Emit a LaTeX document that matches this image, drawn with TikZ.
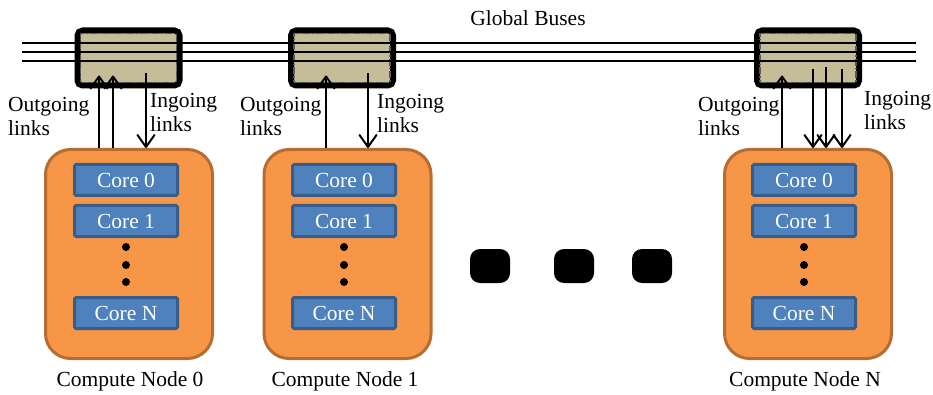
\documentclass[tikz,border=0pt]{standalone}
\usepackage{fontspec}
\setmainfont{Liberation Serif}
\usetikzlibrary{arrows.meta}
\definecolor{bustan}{HTML}{C4BD97}
\definecolor{nodeorange}{HTML}{F79646}
\definecolor{nodeborder}{HTML}{B66D31}
\definecolor{corefill}{HTML}{4F81BD}
\definecolor{coreborder}{HTML}{385D8A}
\tikzset{
  lbl/.style={font=\fontsize{21.5}{24}\selectfont, inner sep=0pt},
  twoline/.style={lbl, align=left, anchor=west},
  busbox/.style={draw=black, fill=bustan, line width=6pt, rounded corners=5pt,
    minimum width=102pt, minimum height=55pt, inner sep=0pt},
  businner/.style={draw=black!65, line width=1.2pt, dash pattern=on 7pt off 2pt on 1.5pt off 2pt,
    minimum width=96pt, minimum height=49pt, inner sep=0pt},
  cnode/.style={draw=nodeborder, fill=nodeorange, line width=3pt, rounded corners=25pt,
    minimum width=167pt, minimum height=209pt, inner sep=0pt},
  core/.style={draw=coreborder, fill=corefill, line width=3pt, rounded corners=1.5pt,
    minimum width=103pt, minimum height=31pt, inner sep=0pt, text=white,
    font=\fontsize{21.5}{24}\selectfont},
  sdot/.style={circle, fill=black, minimum size=8pt, inner sep=0pt},
  bdot/.style={fill=black, rounded corners=10pt, minimum width=40pt, minimum height=34pt, inner sep=0pt},
  arr/.style={line width=2pt, -{Straight Barb[length=12pt,width=17pt,round]}},
  bus/.style={line width=2pt}
}
\begin{document}
\begin{tikzpicture}[x=1pt,y=-1pt]
\useasboundingbox (0,0) rectangle (933,395);

% bus boxes
\foreach \nm/\cx in {b0/128.5, b1/342, bN/808} {
  \node[busbox] (\nm) at (\cx,58) {};
  \node[businner] (\nm i) at (\cx,58) {};
}
% global bus lines
\coordinate (busL1) at (22,43);
\coordinate (busR1) at (916,43);
\coordinate (busL2) at (22,52);
\coordinate (busR2) at (916,52);
\coordinate (busL3) at (22,61);
\coordinate (busR3) at (916,61);
\draw[bus] (busL1) -- (busR1);
\draw[bus] (busL2) -- (busR2);
\draw[bus] (busL3) -- (busR3);
\node[lbl] (gb) at (528,18) {Global Buses};

% compute nodes
\foreach \nm/\cx/\kx in {n0/129/126, n1/347.5/344, nN/808/804} {
  \node[cnode] (\nm) at (\cx,254) {};
  \node[core] (\nm c0) at (\kx,180) {Core 0};
  \node[core] (\nm c1) at (\kx,221) {Core 1};
  \node[core] (\nm cN) at (\kx,313) {Core N};
  \node[sdot] (\nm d1) at (\kx,247) {};
  \node[sdot] (\nm d2) at (\kx,265) {};
  \node[sdot] (\nm d3) at (\kx,282) {};
}
\node[lbl] (l0) at (130,381) {Compute Node 0};
\node[lbl] (l1) at (345,381) {Compute Node 1};
\node[lbl] (lN) at (805,381) {Compute Node N};

% big dots
\node[bdot] (e1) at (490,266) {};
\node[bdot] (e2) at (574,266) {};
\node[bdot] (e3) at (652,266) {};

% links node 0
\draw[arr] ([shift={(-30,0)}]n0.north) -- ([shift={(-29.5,-13)}]b0.south);
\draw[arr] ([shift={(-16,0)}]n0.north) -- ([shift={(-15.5,-13)}]b0.south);
\draw[arr] ([shift={(17.5,-15)}]b0.south) -- ([shift={(17,0)}]n0.north);
% links node 1
\draw[arr] ([shift={(-21.5,0)}]n1.north) -- ([shift={(-16,-13)}]b1.south);
\draw[arr] ([shift={(26,-15)}]b1.south) -- ([shift={(20.5,0)}]n1.north);
% links node N
\draw[arr] ([shift={(-26,0)}]nN.north) -- ([shift={(-26,-13)}]bN.south);
\draw[arr] ([shift={(5,-19)}]bN.south) -- ([shift={(5,0)}]nN.north);
\draw[arr] ([shift={(18,-21)}]bN.south) -- ([shift={(18,0)}]nN.north);
\draw[arr] ([shift={(34,-19)}]bN.south) -- ([shift={(34,0)}]nN.north);

% link labels
\node[twoline] (o0) at (8,116) {Outgoing\\links};
\node[twoline] (i0) at (150,112) {Ingoing\\links};
\node[twoline] (o1) at (240,116) {Outgoing\\links};
\node[twoline] (i1) at (377,113) {Ingoing\\links};
\node[twoline] (oN) at (698,116) {Outgoing\\links};
\node[twoline] (iN) at (864,110) {Ingoing\\links};
\end{tikzpicture}
\end{document}
